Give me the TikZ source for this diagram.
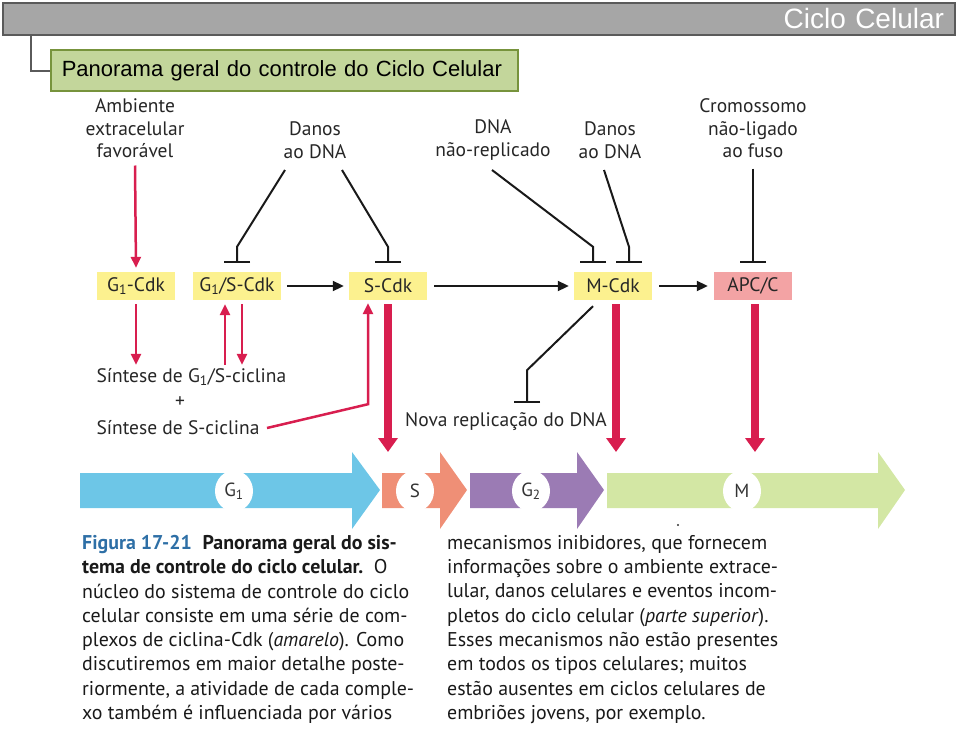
\documentclass[tikz,border=0pt]{standalone}
\usepackage{fontspec}
\setmainfont{PT Sans}
\newfontfamily\arialfont{Liberation Sans}
\usetikzlibrary{arrows.meta,positioning,shapes.geometric}
\definecolor{barGray}{HTML}{A6A6A6}
\definecolor{barEdge}{HTML}{5A5A5A}
\definecolor{boxGreen}{HTML}{C3D69B}
\definecolor{boxGreenEdge}{HTML}{77933C}
\definecolor{cdkYellow}{HTML}{FCF18F}
\definecolor{apcPink}{HTML}{F3A3A4}
\definecolor{sigRed}{HTML}{D81E4F}
\definecolor{phaseG1}{HTML}{6DC6E7}
\definecolor{phaseS}{HTML}{EF8F76}
\definecolor{phaseG2}{HTML}{9B7BB4}
\definecolor{phaseM}{HTML}{D3E7A4}
\definecolor{figBlue}{HTML}{2E6FA6}

\begin{document}
\begin{tikzpicture}[x=1pt,y=-1pt,
    lbl/.style={align=center, font=\fontsize{19.5}{22.5}\selectfont, text=black!85},
    cdk/.style={fill=cdkYellow, minimum height=28pt, minimum width=78pt, inner xsep=6pt,
      font=\fontsize{19.5}{20}\selectfont, text=black!85},
    push/.style={draw=sigRed, line width=2.5pt, -{Triangle[width=10pt,length=11pt]}},
    bigpush/.style={draw=sigRed, line width=8pt, -{Triangle[width=19pt,length=14pt]}},
    flow/.style={draw=black!90, line width=2pt, -{Triangle[width=10pt,length=11pt]}},
    inhib/.style={draw=black!90, line width=2pt, -{Bar[width=26pt,line width=2pt]}},
    phaselbl/.style={ellipse, fill=white, minimum width=38pt, minimum height=41pt, inner sep=0pt,
      font=\fontsize{19}{20}\selectfont, text=black!80},
    caption/.style={anchor=north west, align=left, inner sep=0pt,
      font=\fontsize{19.9}{24.3}\selectfont, text=black!90}]
  \useasboundingbox (0,0) rectangle (959,734);

  % Header
  \node[fill=barGray, draw=barEdge, line width=2pt, minimum width=952pt, minimum height=32pt,
    text width=930pt, align=right, text=white, font=\arialfont\fontsize{28}{30}\selectfont]
    (ciclo) at (479,18.5) {Ciclo Celular};
  \node[fill=boxGreen, draw=boxGreenEdge, line width=1.5pt, minimum width=467pt, minimum height=41pt,
    anchor=west, text width=445pt, align=left, font=\arialfont\fontsize{22}{24}\selectfont]
    (panorama) at (50,70.5) {Panorama geral do controle do Ciclo Celular};
  \draw[barEdge, line width=2pt] ([xshift=29pt]ciclo.south west) |- (panorama.west);

  % Define nodes
  \node[lbl] (amb)    at (135,128.5) {Ambiente\\extracelular\\favorável};
  \node[lbl] (danos1) at (315,140) {Danos\\ao DNA};
  \node[lbl] (dnanr)  at (493,140) {DNA\\não-replicado};
  \node[lbl] (danos2) at (610,140) {Danos\\ao DNA};
  \node[lbl] (cromo)  at (753,128.5) {Cromossomo\\não-ligado\\ao fuso};

  \node[cdk] (g1cdk) at (136,286) {G\textsubscript{1}-Cdk};
  \node[cdk] (g1s)   at (237,286) {G\textsubscript{1}/S-Cdk};
  \node[cdk] (scdk)  at (388,286) {S-Cdk};
  \node[cdk] (mcdk)  at (613,286) {M-Cdk};
  \node[cdk, fill=apcPink] (apc) at (753,286) {APC/C};

  \node[lbl, anchor=west] (sint1) at (93,377) {Síntese de G\textsubscript{1}/S-ciclina};
  \node[lbl] (plus) at (180,402) {+};
  \node[lbl, anchor=west] (sint2) at (93,428) {Síntese de S-ciclina};
  \node[lbl] (novarep) at (506,422) {Nova replicação do DNA};

  % Phases
  \fill[phaseG1] (80,473) -- (352,473) -- (352,452) -- (380,490) -- (352,529) -- (352,508) -- (80,508) -- cycle;
  \fill[phaseS]  (382,473) -- (440,473) -- (440,452) -- (467,490) -- (440,529) -- (440,508) -- (382,508) -- cycle;
  \fill[phaseG2] (470,473) -- (577,473) -- (577,452) -- (604,490) -- (577,529) -- (577,508) -- (470,508) -- cycle;
  \fill[phaseM]  (607,473) -- (878,473) -- (878,452) -- (905,490) -- (878,529) -- (878,508) -- (607,508) -- cycle;
  \node[phaselbl] (g1) at (234,491) {G\textsubscript{1}};
  \node[phaselbl] (s)  at (415,491) {S};
  \node[phaselbl] (g2) at (531,491) {G\textsubscript{2}};
  \node[phaselbl] (m)  at (742,491) {M};
  \coordinate (sin)  at (388,452);
  \coordinate (min)  at (616,452);
  \coordinate (apcin) at (755,452);

  % Connect nodes
  \draw[push] ([yshift=-37pt]amb.center) -- ([yshift=4pt]g1cdk.north);
  \draw[push] ([yshift=-4pt]g1cdk.south) -- (g1cdk.south |- sint1.north);
  \draw[push] ([xshift=-12pt]g1s.south |- sint1.north) -- ([xshift=-12pt,yshift=-4pt]g1s.south);
  \draw[push] ([xshift=5pt,yshift=-4pt]g1s.south) -- ([xshift=5pt]g1s.south |- sint1.north);
  \draw[push] ([xshift=4pt]sint2.east) -- ([xshift=-20pt,yshift=-104pt]scdk.south) -- ([xshift=-20pt,yshift=-3pt]scdk.south);

  \draw[flow, shorten <=6pt, shorten >=5pt] (g1s) -- (scdk);
  \draw[flow, shorten <=7pt, shorten >=5pt] (scdk) -- (mcdk);
  \draw[flow, shorten <=7pt, shorten >=6pt] (mcdk) -- (apc);

  \draw[inhib] ([xshift=-30pt,yshift=-30pt]danos1.center) -- ([yshift=25pt]g1s.north) -- ([yshift=9pt]g1s.north);
  \draw[inhib] ([xshift=27pt,yshift=-30pt]danos1.center) -- ([yshift=25pt]scdk.north) -- ([yshift=9pt]scdk.north);
  \draw[inhib] ([xshift=-1pt,yshift=-30pt]dnanr.center) -- ([xshift=-20pt,yshift=25pt]mcdk.north) -- ([xshift=-20pt,yshift=9pt]mcdk.north);
  \draw[inhib] ([xshift=-6pt,yshift=-30pt]danos2.center) -- ([xshift=16pt,yshift=25pt]mcdk.north) -- ([xshift=16pt,yshift=9pt]mcdk.north);
  \draw[inhib] ([yshift=-40pt]cromo.center) -- ([yshift=9pt]apc.north);
  \draw[inhib] ([xshift=-20pt,yshift=-6pt]mcdk.south) -- ([xshift=-86pt,yshift=-70pt]mcdk.south) -- ([yshift=6pt]novarep.north -| 527,0);

  \draw[bigpush] ([yshift=-4pt]scdk.south) -- (sin);
  \draw[bigpush] ([xshift=3pt,yshift=-4pt]mcdk.south) -- (min);
  \draw[bigpush] ([xshift=2pt,yshift=-4pt]apc.south) -- (apcin);

  % Caption
  \fill[black!80] (678,525) circle (1.2pt);
  \node[caption] (capleft) at (82,535) {\textcolor{figBlue}{\textbf{Figura 17-21}}\ \ \textbf{Panorama geral do sis-}\\
    \textbf{tema de controle do ciclo celular.}\ \ O\\
    núcleo do sistema de controle do ciclo\\
    celular consiste em uma série de com-\\
    plexos de ciclina-Cdk (\textit{amarelo}). Como\\
    discutiremos em maior detalhe poste-\\
    riormente, a atividade de cada comple-\\
    xo também é influenciada por vários};
  \node[caption] (capright) at (447,535) {mecanismos inibidores, que fornecem\\
    informações sobre o ambiente extrace-\\
    lular, danos celulares e eventos incom-\\
    pletos do ciclo celular (\textit{parte superior}).\\
    Esses mecanismos não estão presentes\\
    em todos os tipos celulares; muitos\\
    estão ausentes em ciclos celulares de\\
    embriões jovens, por exemplo.};
\end{tikzpicture}
\end{document}
